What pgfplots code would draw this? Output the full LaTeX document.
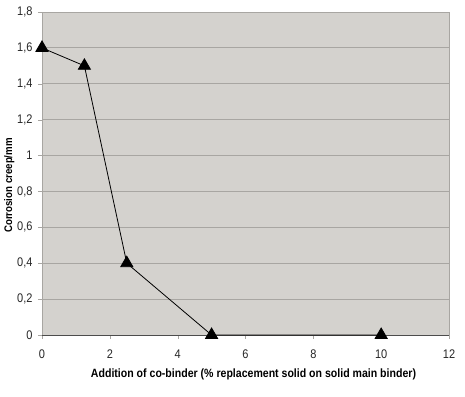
\documentclass[border=0pt]{standalone}
\usepackage{fontspec}
\setmainfont{Liberation Sans}
\newfontfamily\narrow{Liberation Sans}[FakeStretch=0.88]
\usepackage{pgfplots}
\pgfplotsset{compat=1.18}
\definecolor{bg}{HTML}{D4D2CE}
\definecolor{gridc}{HTML}{A8A6A2}
\begin{document}
\begin{tikzpicture}
\useasboundingbox (-42pt,-61pt) rectangle (423pt,335pt);
\begin{axis}[
  scale only axis,
  width=407pt, height=323pt,
  xmin=0, xmax=12, ymin=0, ymax=1.8,
  xtick={0,2,...,12},
  ytick={0,0.2,...,1.8},
  /pgf/number format/.cd, use comma, fixed, assume math mode=true,
  /pgfplots/.cd,
  axis background/.style={fill=bg},
  ymajorgrids, major grid style={gridc, line width=0.8pt},
  axis line style={gridc},
  axis x line*=bottom, axis y line*=left,
  tick align=outside, major tick length=4pt,
  tick style={gridc},
  ticklabel style={font=\narrow\fontsize{12.5}{12}\selectfont, text=black!85},
  xticklabel style={yshift=-7pt},
  yticklabel style={xshift=-2pt},
  xlabel={\textbf{Addition of co-binder (\% replacement solid on solid main binder)}},
  ylabel={\textbf{Corrosion creep/mm}},
  xlabel style={font=\narrow\fontsize{12}{12}\selectfont, yshift=-4pt, xshift=8pt},
  ylabel style={font=\narrow\fontsize{11}{12}\selectfont, yshift=-4pt, xshift=-12pt},
  clip=false,
]
\draw[black!70, line width=1pt] (axis cs:0,0) -- (axis cs:12,0);
\draw[gridc, line width=0.8pt] (axis cs:12,0) -- (axis cs:12,1.8);
\addplot[black, line width=0.8pt, mark=triangle*, mark size=7pt, mark options={fill=black}]
  coordinates {(0,1.6) (1.25,1.5) (2.5,0.4) (5,0) (10,0)};
\end{axis}
\end{tikzpicture}
\end{document}
